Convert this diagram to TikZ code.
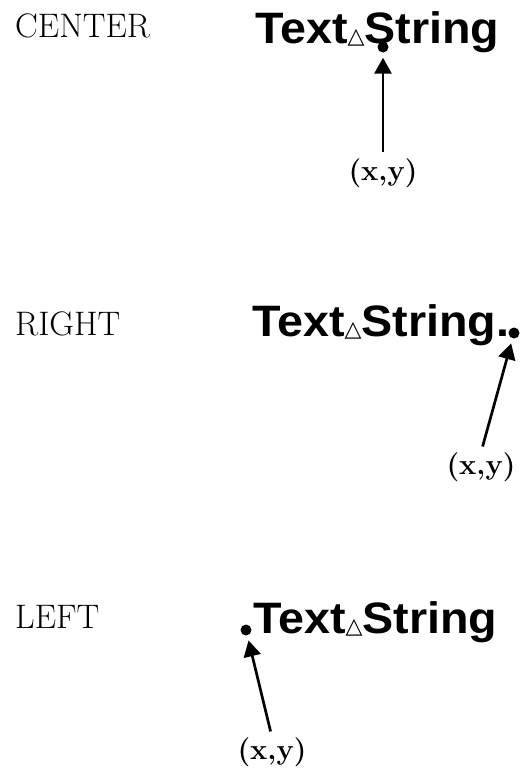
\documentclass[tikz,border=0pt]{standalone}
\usepackage{fontspec}
\usepackage{tikz}
\usetikzlibrary{arrows.meta}
\newfontfamily\textohel{Liberation Sans}[FakeStretch=1.06]
\newfontfamily\simbolo{DejaVu Sans}
\newcommand{\hueco}{{\simbolo\fontsize{22}{22}\selectfont △}}

\begin{document}
\begin{tikzpicture}[x=1pt, y=-1pt,
  modo/.style={anchor=base west, inner sep=0pt, font=\fontsize{34}{34}\selectfont},
  cadena/.style={anchor=base west, inner sep=0pt,
                 font=\textohel\bfseries\fontsize{44}{44}\selectfont},
  punto/.style={circle, fill=black, inner sep=0pt, minimum size=11pt},
  coord/.style={inner sep=0pt, font=\bfseries\fontsize{29}{29}\selectfont},
  flecha/.style={-{Triangle[length=16pt, width=17pt]}, line width=2.7pt,
                 shorten <=6pt, shorten >=5pt}]
  \useasboundingbox (0,0) rectangle (525,780);
  % centrado
  \node[modo] (centro) at (15,37) {CENTER};
  \node[cadena] (cadcentro) at (255,43) {Text\hueco String};
  \node[punto] (ptcentro) at (383,47) {};
  \node[coord] (xycentro) at (383,173) {(x,y)};
  \draw[flecha] (xycentro.north) -- (ptcentro);
  % derecha
  \node[modo] (derecha) at (15,335) {RIGHT};
  \node[cadena] (cadderecha) at (252,336) {Text\hueco String.};
  \node[punto] (ptderecha) at (514,333) {};
  \node[coord] (xyderecha) at (481,467) {(x,y)};
  \draw[flecha] (xyderecha.north) -- (ptderecha);
  % izquierda
  \node[modo] (izquierda) at (15,628) {LEFT};
  \node[cadena] (cadizquierda) at (253,633) {Text\hueco String};
  \node[punto] (ptizquierda) at (246,630) {};
  \node[coord] (xyizquierda) at (272,752) {(x,y)};
  \draw[flecha] (xyizquierda.north) -- (ptizquierda);
\end{tikzpicture}
\end{document}
